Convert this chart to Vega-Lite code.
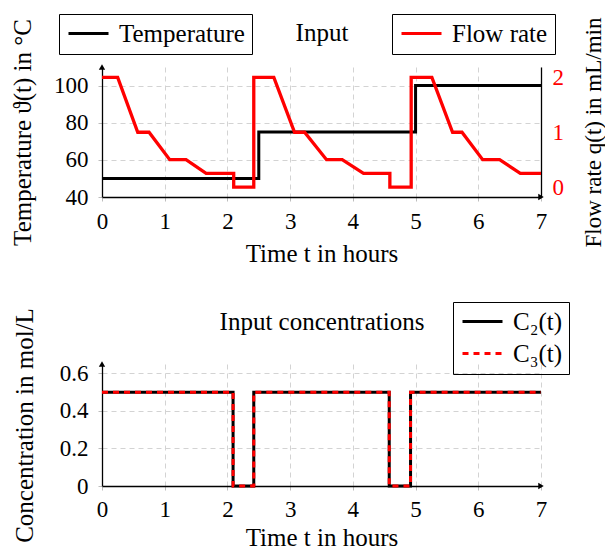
{
  "$schema": "https://vega.github.io/schema/vega-lite/v6.json",
  "padding": {"left": 10, "top": 13, "right": 0, "bottom": 0},
  "background": "white",
  "config": {
    "font": "Liberation Serif",
    "view": {"stroke": null},
    "axis": {
      "labelFont": "Liberation Serif", "titleFont": "Liberation Serif",
      "labelFontSize": 23, "titleFontSize": 25, "titleFontWeight": "normal",
      "labelColor": "black", "titleColor": "black",
      "domainColor": "black", "domainWidth": 1.3,
      "tickColor": "#bdbdbd", "tickSize": 4,
      "gridColor": "#d3d3d3", "gridDash": [5, 4], "gridWidth": 1
    },
    "legend": {"labelFont": "Liberation Serif", "labelFontSize": 25, "labelColor": "black"}
  },
  "datasets": {
    "temp": [
      {"i": 0, "t": 0, "T": 50}, {"i": 1, "t": 2.5, "T": 50}, {"i": 2, "t": 2.5, "T": 75},
      {"i": 3, "t": 5, "T": 75}, {"i": 4, "t": 5, "T": 100}, {"i": 5, "t": 7, "T": 100}
    ],
    "flow": [
      {"i": 0, "t": 0, "q": 2}, {"i": 1, "t": 0.25, "q": 2}, {"i": 2, "t": 0.57, "q": 1}, {"i": 3, "t": 0.75, "q": 1},
      {"i": 4, "t": 1.08, "q": 0.5}, {"i": 5, "t": 1.34, "q": 0.5}, {"i": 6, "t": 1.66, "q": 0.25}, {"i": 7, "t": 2.1, "q": 0.25},
      {"i": 8, "t": 2.1, "q": 0}, {"i": 9, "t": 2.42, "q": 0}, {"i": 10, "t": 2.42, "q": 2}, {"i": 11, "t": 2.74, "q": 2},
      {"i": 12, "t": 3.07, "q": 1}, {"i": 13, "t": 3.23, "q": 1}, {"i": 14, "t": 3.58, "q": 0.5}, {"i": 15, "t": 3.83, "q": 0.5},
      {"i": 16, "t": 4.17, "q": 0.25}, {"i": 17, "t": 4.59, "q": 0.25}, {"i": 18, "t": 4.59, "q": 0}, {"i": 19, "t": 4.93, "q": 0},
      {"i": 20, "t": 4.93, "q": 2}, {"i": 21, "t": 5.26, "q": 2}, {"i": 22, "t": 5.59, "q": 1}, {"i": 23, "t": 5.74, "q": 1},
      {"i": 24, "t": 6.07, "q": 0.5}, {"i": 25, "t": 6.34, "q": 0.5}, {"i": 26, "t": 6.67, "q": 0.25}, {"i": 27, "t": 7, "q": 0.25}
    ],
    "conc": [
      {"s": "C₂(t)", "i": 0, "t": 0, "c": 0.5}, {"s": "C₂(t)", "i": 1, "t": 2.09, "c": 0.5}, {"s": "C₂(t)", "i": 2, "t": 2.09, "c": 0},
      {"s": "C₂(t)", "i": 3, "t": 2.42, "c": 0}, {"s": "C₂(t)", "i": 4, "t": 2.42, "c": 0.5}, {"s": "C₂(t)", "i": 5, "t": 4.58, "c": 0.5},
      {"s": "C₂(t)", "i": 6, "t": 4.58, "c": 0}, {"s": "C₂(t)", "i": 7, "t": 4.92, "c": 0}, {"s": "C₂(t)", "i": 8, "t": 4.92, "c": 0.5},
      {"s": "C₂(t)", "i": 9, "t": 7, "c": 0.5},
      {"s": "C₃(t)", "i": 0, "t": 0, "c": 0.5}, {"s": "C₃(t)", "i": 1, "t": 2.09, "c": 0.5}, {"s": "C₃(t)", "i": 2, "t": 2.09, "c": 0},
      {"s": "C₃(t)", "i": 3, "t": 2.42, "c": 0}, {"s": "C₃(t)", "i": 4, "t": 2.42, "c": 0.5}, {"s": "C₃(t)", "i": 5, "t": 4.58, "c": 0.5},
      {"s": "C₃(t)", "i": 6, "t": 4.58, "c": 0}, {"s": "C₃(t)", "i": 7, "t": 4.92, "c": 0}, {"s": "C₃(t)", "i": 8, "t": 4.92, "c": 0.5},
      {"s": "C₃(t)", "i": 9, "t": 7, "c": 0.5}
    ],
    "arrowsTop": [{"t": 0, "v": 110, "dir": "up"}, {"t": 7, "v": 40, "dir": "right"}],
    "arrowsBottom": [{"t": 0, "v": 0.65, "dir": "up"}, {"t": 7, "v": 0, "dir": "right"}]
  },
  "spacing": 167,
  "bounds": "flush",
  "resolve": {"scale": {"color": "independent", "strokeDash": "independent", "shape": "independent"}},
  "vconcat": [
    {
      "width": 439,
      "height": 130,
      "layer": [
        {
          "layer": [
            {
              "data": {"name": "temp"},
              "mark": {"type": "line", "strokeWidth": 3},
              "encoding": {
                "x": {"field": "t", "type": "quantitative", "scale": {"domain": [0, 7], "nice": false},
                  "axis": {"values": [0, 1, 2, 3, 4, 5, 6, 7], "format": "d", "title": "Time t in hours", "grid": true,
                    "labelFlush": false, "labelBaseline": "alphabetic", "labelPadding": 27,
                    "titleY": 64, "titleBaseline": "alphabetic"}},
                "y": {"field": "T", "type": "quantitative", "scale": {"domain": [40, 110], "nice": false, "zero": false},
                  "axis": {"values": [40, 60, 80, 100], "format": "d", "title": "Temperature ϑ(t) in °C", "grid": true,
                    "labelPadding": 10, "titleX": -72, "titleBaseline": "alphabetic", "titleAngle": 270}},
                "order": {"field": "i", "type": "quantitative"},
                "color": {"datum": "Temperature", "type": "nominal", "scale": {"domain": ["Temperature"], "range": ["black"]},
                  "legend": {"orient": "none", "legendX": -43, "legendY": -53, "title": null, "strokeColor": "black",
                    "padding": 7, "symbolType": "M-1,0H3", "symbolSize": 400, "symbolStrokeWidth": 3, "labelOffset": 28}}
              }
            },
            {
              "data": {"name": "arrowsTop"},
              "mark": {"type": "point", "filled": true, "color": "black", "size": 40, "opacity": 1},
              "encoding": {
                "x": {"field": "t", "type": "quantitative"},
                "y": {"field": "v", "type": "quantitative"},
                "shape": {"field": "dir", "type": "nominal", "scale": {"domain": ["up", "right"], "range": ["triangle-up", "triangle-right"]}, "legend": null}
              }
            }
          ]
        },
        {
          "data": {"name": "flow"},
          "mark": {"type": "line", "strokeWidth": 3.3},
          "encoding": {
            "x": {"field": "t", "type": "quantitative", "scale": {"domain": [0, 7], "nice": false},
              "axis": {"orient": "top", "title": "Input", "labels": false, "ticks": false, "domain": false, "grid": false,
                "titleY": -27, "titleBaseline": "alphabetic"}},
            "y": {"field": "q", "type": "quantitative", "scale": {"domain": [-0.18, 2.19], "nice": false, "zero": false},
              "axis": {"orient": "right", "values": [0, 1, 2], "format": "d", "title": "Flow rate q(t) in mL/min", "grid": false,
                "labelColor": "red", "ticks": false, "labelPadding": 11, "titleAngle": 270, "titleX": 59, "titleBaseline": "alphabetic",
                "titleFontSize": 23}},
            "order": {"field": "i", "type": "quantitative"},
            "color": {"datum": "Flow rate", "type": "nominal", "scale": {"domain": ["Flow rate"], "range": ["red"]},
              "legend": {"orient": "none", "legendX": 290, "legendY": -53, "title": null, "strokeColor": "black",
                "padding": 7, "symbolType": "M-1,0H3", "symbolSize": 400, "symbolStrokeWidth": 3, "labelOffset": 28}}
          }
        }
      ],
      "resolve": {"scale": {"x": "independent", "y": "independent", "color": "independent"}}
    },
    {
      "width": 439,
      "height": 122,
      "layer": [
        {
          "data": {"name": "conc"},
          "mark": {"type": "line", "strokeWidth": 3},
          "encoding": {
            "x": {"field": "t", "type": "quantitative", "scale": {"domain": [0, 7], "nice": false},
              "axis": {"values": [0, 1, 2, 3, 4, 5, 6, 7], "format": "d", "title": "Time t in hours", "grid": true,
                "labelFlush": false, "labelBaseline": "alphabetic", "labelPadding": 26,
                "titleY": 59, "titleBaseline": "alphabetic"}},
            "y": {"field": "c", "type": "quantitative", "scale": {"domain": [0, 0.65], "nice": false},
              "axis": {"values": [0, 0.2, 0.4, 0.6], "format": "~g", "title": "Concentration in mol/L", "grid": true,
                "labelPadding": 10, "titleX": -70, "titleBaseline": "alphabetic", "titleAngle": 270}},
            "order": {"field": "i", "type": "quantitative"},
            "color": {"field": "s", "type": "nominal", "scale": {"domain": ["C₂(t)", "C₃(t)"], "range": ["black", "red"]},
              "legend": {"orient": "none", "legendX": 351, "legendY": -62, "title": null, "strokeColor": "black",
                "padding": 7, "symbolType": "M-1,0H3", "symbolSize": 400, "symbolStrokeWidth": 3, "labelOffset": 28, "rowPadding": 6}},
            "strokeDash": {"field": "s", "type": "nominal", "scale": {"domain": ["C₂(t)", "C₃(t)"], "range": [[1, 0], [6, 5]]},
              "legend": {"orient": "none", "legendX": 351, "legendY": -62, "title": null, "strokeColor": "black",
                "padding": 7, "symbolType": "M-1,0H3", "symbolSize": 400, "symbolStrokeWidth": 3, "labelOffset": 28, "rowPadding": 6}}
          }
        },
        {
          "data": {"name": "arrowsBottom"},
          "mark": {"type": "point", "filled": true, "color": "black", "size": 40, "opacity": 1},
          "encoding": {
            "x": {"field": "t", "type": "quantitative", "scale": {"domain": [0, 7], "nice": false},
              "axis": {"orient": "top", "title": "Input concentrations", "labels": false, "ticks": false, "domain": false, "grid": false,
                "titleY": -35, "titleBaseline": "alphabetic"}},
            "y": {"field": "v", "type": "quantitative"},
            "shape": {"field": "dir", "type": "nominal", "scale": {"domain": ["up", "right"], "range": ["triangle-up", "triangle-right"]}, "legend": null}
          }
        }
      ],
      "resolve": {"scale": {"x": "independent"}}
    }
  ]
}
